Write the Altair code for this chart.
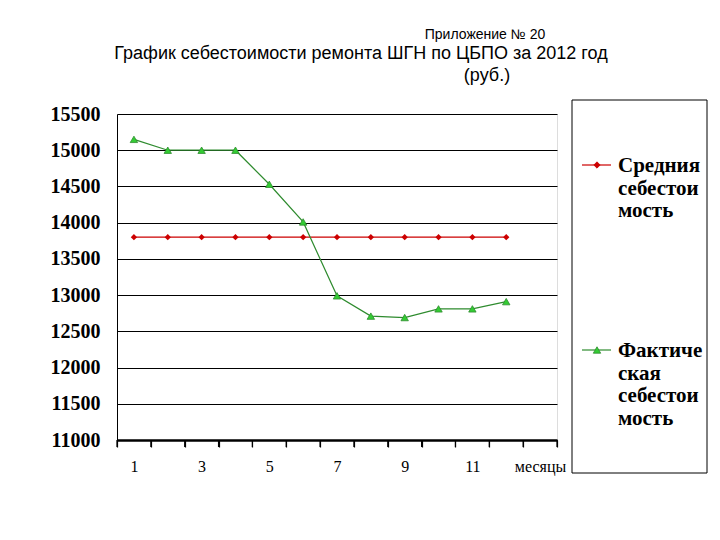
import altair as alt
import pandas as pd

months = ["1", "2", "3", "4", "5", "6", "7", "8", "9", "10", "11", "12"]
x_domain = months + ["месяцы"]
avg_cost = [13800, 13800, 13800, 13800, 13800, 13800, 13800, 13800, 13800, 13800, 13800, 13800]
fact_cost = [15150, 15000, 15000, 15000, 14530, 14010, 12990, 12710, 12690, 12810, 12810, 12910]
series_names = ["Средния себестоимость", "Фактическая себестоимость"]
legend_texts = ["Средния\nсебестои\nмость", "Фактиче\nская\nсебестои\nмость"]
y_ticks = [11000, 11500, 12000, 12500, 13000, 13500, 14000, 14500, 15000, 15500]
shown_x_labels = ["1", "3", "5", "7", "9", "11", "месяцы"]

df = pd.DataFrame({
    "month": months * 2,
    "value": avg_cost + fact_cost,
    "series": [series_names[0]] * len(months) + [series_names[1]] * len(months),
})
tick_df = pd.DataFrame({"month": x_domain})

W, H = 440, 326
RED = "#cc0000"
GREEN_LINE = "#2e8b2e"
GREEN_FILL = "#33cc33"

x_scale = alt.Scale(type="band", domain=x_domain, paddingInner=0, paddingOuter=0)
x_axis = alt.Axis(
    title=None, grid=False, domainColor="black", domainWidth=2.5,
    ticks=True, tickBand="extent", tickColor="black", tickSize=7, tickWidth=1.2,
    labelAngle=0, labelFont="Liberation Serif", labelFontSize=16,
    labelColor="black", labelPadding=11,
    labelExpr="indexof(" + str(shown_x_labels).replace('"', "'") + ", datum.value) >= 0 ? datum.label : ''",
)
x_enc = alt.X("month:O", scale=x_scale, axis=x_axis, bandPosition=0.5)
y_enc = alt.Y(
    "value:Q",
    scale=alt.Scale(domain=[11000, 15500], nice=False, zero=False),
    axis=alt.Axis(
        title=None, values=y_ticks, format="d", grid=True, gridColor="black", gridWidth=1,
        gridOpacity=1, ticks=False, domainColor="black", domainWidth=1,
        labelFont="Liberation Serif", labelFontWeight="bold", labelFontSize=20,
        labelColor="black", labelPadding=17,
    ),
)

base = alt.Chart(df)

lines = base.mark_line(strokeWidth=1.2).encode(
    x=x_enc, y=y_enc,
    color=alt.Color("series:N", scale=alt.Scale(domain=series_names, range=[RED, GREEN_LINE]), legend=None),
)
pts_red = base.transform_filter(alt.datum.series == series_names[0]).mark_point(
    shape="diamond", filled=True, size=40, color=RED, opacity=1
).encode(x=x_enc, y=y_enc)
pts_green = base.transform_filter(alt.datum.series == series_names[1]).mark_point(
    shape="triangle-up", filled=True, size=55, fill=GREEN_FILL, stroke=GREEN_LINE, strokeWidth=0.8, opacity=1
).encode(x=x_enc, y=y_enc)

# x-axis tick marks at band boundaries
ticks_start = alt.Chart(tick_df).mark_rule(color="black", strokeWidth=1.2, clip=False).encode(
    x=alt.X("month:O", scale=x_scale, axis=x_axis, bandPosition=0),
    y=alt.value(H), y2=alt.value(H + 7),
)
ticks_end = alt.Chart(tick_df).transform_filter(alt.datum.month == x_domain[-1]).mark_rule(
    color="black", strokeWidth=1.2, clip=False
).encode(
    x=alt.X("month:O", scale=x_scale, axis=x_axis, bandPosition=1),
    y=alt.value(H), y2=alt.value(H + 7),
)

one = pd.DataFrame({"k": [0]})
box = alt.Chart(one).mark_rect(fill=None, stroke="black", strokeWidth=1).encode(
    x=alt.value(455), x2=alt.value(590), y=alt.value(-14), y2=alt.value(359)
)

def legend_entry(text, color, fill, shape, size, y):
    line = alt.Chart(one).mark_rule(color=color, strokeWidth=1.2).encode(
        x=alt.value(465), x2=alt.value(494), y=alt.value(y)
    )
    sym = alt.Chart(one).mark_point(shape=shape, filled=True, size=size, fill=fill,
                                    stroke=color, strokeWidth=0.8, opacity=1).encode(
        x=alt.value(480), y=alt.value(y)
    )
    txt = alt.Chart(pd.DataFrame({"t": [text]})).mark_text(
        font="Liberation Serif", fontWeight="bold", fontSize=21, color="black",
        align="left", baseline="top", lineBreak="\n", lineHeight=22.5
    ).encode(text="t:N", x=alt.value(501), y=alt.value(y - 10))
    return [line, sym, txt]

leg1 = legend_entry(legend_texts[0], RED, RED, "diamond", 40, 51)
leg2 = legend_entry(legend_texts[1], GREEN_LINE, GREEN_FILL, "triangle-up", 55, 236)

def label(text, x, y, size):
    return alt.Chart(pd.DataFrame({"t": [text]})).mark_text(
        font="Liberation Sans", fontSize=size, color="black", align="center", baseline="middle"
    ).encode(text="t:N", x=alt.value(x), y=alt.value(y))

t1 = label("Приложение № 20", 368, -79, 14)
t2 = label("График себестоимости ремонта ШГН по ЦБПО за 2012 год", 244, -60, 18)
t3 = label("(руб.)", 370, -38, 18)

chart = alt.layer(lines, pts_red, pts_green, ticks_start, ticks_end, box, *leg1, *leg2, t1, t2, t3).properties(
    width=W, height=H,
    autosize=alt.AutoSizeParams(type="none"),
    padding={"left": 117, "top": 114, "right": 163, "bottom": 100},
).configure_view(stroke=None).configure(background="white")

chart.save("out.html", embed_options={"renderer": "svg", "actions": False})
